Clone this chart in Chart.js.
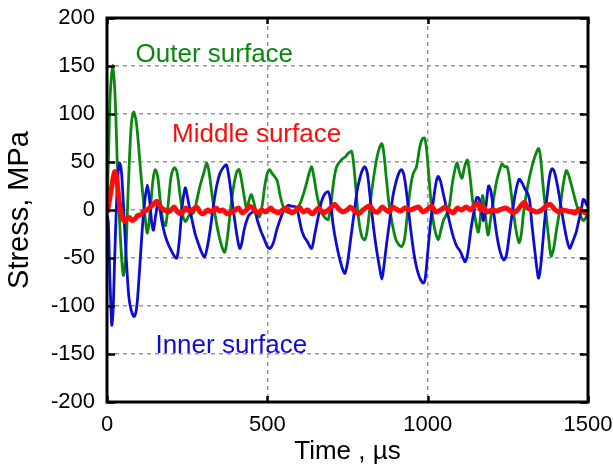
<!DOCTYPE html>
<html>
<head>
<meta charset="utf-8">
<script src="https://cdn.jsdelivr.net/npm/chart.js@4/dist/chart.umd.min.js"></script>
<style>
  html, body { margin: 0; padding: 0; background: #fff; }
  #wrap { width: 613px; height: 467px; }
</style>
</head>
<body>
<div id="wrap"><canvas id="stressChart" width="613" height="467"></canvas></div>
<script>
// ---- data (time in µs, stress in MPa) ----
const outerTime = [0,5,10,18,25,33,42,51,58,66,75,83,92,105,118,126,135,143,150,158,166,175,183,192,200,210,218,228,238,245,257,270,280,290,303,311,318,330,345,358,367,375,385,395,405,412,420,430,436,443,450,458,466,476,484,492,500,507,515,530,540,550,560,570,585,595,606,620,630,638,645,655,668,680,690,698,707,716,730,745,752,763,770,778,785,795,804,812,822,832,842,850,857,863,872,880,890,900,910,919,928,938,947,955,965,975,983,990,996,1005,1013,1022,1033,1042,1050,1060,1068,1078,1091,1099,1107,1115,1124,1132,1140,1150,1158,1165,1171,1178,1188,1196,1205,1215,1225,1232,1240,1248,1256,1265,1275,1285,1292,1300,1312,1325,1337,1346,1352,1360,1368,1376,1385,1393,1402,1412,1422,1432,1438,1445,1453,1462,1472,1485,1493,1500];
const outerStress = [0,60,120,151,120,40,-30,-68,-50,20,85,102,90,40,-5,-24,0,30,42,35,10,-12,-16,10,35,44,40,15,-8,-12,-5,-3,10,25,40,49,40,10,-20,-38,-44,-30,0,25,40,42,30,10,0,10,16,8,-3,-7,5,25,38,42,38,31,15,3,-2,-3,-3,2,10,25,38,45,35,15,-2,-8,-10,5,30,45,52,56,59,61,45,15,-10,-28,-31,-20,10,35,55,65,69,60,30,5,-15,-30,-36,-38,-30,0,25,38,45,65,74,75,65,30,0,-20,-31,-20,-10,-4,5,30,49,40,33,45,52,35,10,-12,-23,-5,15,0,-26,-10,10,30,42,48,45,45,30,5,-20,-34,-25,0,25,45,58,64,55,25,0,-25,-48,-40,-20,0,25,41,38,30,20,8,-2,-11,-8,-3];

const innerTime = [0,4,8,12,15,19,24,30,35,39,45,52,60,68,76,85,93,102,110,118,126,133,140,145,152,161,170,180,190,200,210,218,226,235,244,250,257,265,275,285,295,304,312,322,332,342,352,362,372,380,390,400,408,414,420,428,440,450,461,470,480,490,500,508,518,530,542,552,565,575,590,600,607,615,625,638,648,660,670,680,690,697,705,715,725,735,742,750,760,770,780,790,797,804,812,820,830,840,850,857,863,872,882,892,902,912,919,927,937,947,957,967,977,987,993,1000,1010,1020,1027,1033,1040,1050,1060,1070,1080,1091,1100,1108,1117,1125,1135,1145,1153,1160,1167,1174,1182,1190,1197,1205,1215,1225,1237,1245,1255,1265,1275,1285,1295,1303,1311,1318,1325,1335,1341,1346,1352,1360,1368,1376,1382,1388,1395,1405,1415,1425,1435,1443,1450,1458,1464,1472,1479,1485,1490,1495,1500];
const innerStress = [-5,-12,-60,-100,-120,-105,-50,10,40,49,40,0,-50,-90,-105,-111,-100,-60,-20,10,26,10,-15,-21,-5,9,-10,-25,-35,-42,-48,-50,-30,5,23,15,3,-10,-25,-35,-44,-49,-40,-20,5,25,38,44,47,35,10,-15,-32,-40,-35,-20,-7,-3,-2,-12,-22,-30,-38,-40,-35,-20,-8,0,5,4,3,-10,-21,-28,-33,-40,-25,-5,10,17,19,10,-15,-35,-50,-62,-66,-55,-30,-5,20,35,42,45,38,15,-15,-40,-60,-72,-60,-35,-10,15,30,40,42,35,10,-20,-45,-62,-72,-76,-70,-45,-10,15,30,35,30,15,0,-15,-28,-38,-42,-48,-54,-45,-20,0,13,12,0,-11,5,25,20,0,-25,-42,-52,-48,-25,0,20,32,28,22,18,10,-15,-45,-62,-71,-60,-30,0,25,38,43,40,25,5,-15,-32,-40,-35,-28,-22,-10,0,11,10,6,4];

const middleTime = [0,5,10,15,20,25,30,36,42,48,55,62,70,78,88,95,105,115,125,135,145,155,162,170,180,190,200,210,220,232,245,255,265,280,290,300,315,325,340,350,362,375,390,400,410,422,435,445,458,470,482,495,510,520,535,548,560,575,590,600,612,625,640,650,660,675,690,700,710,720,735,748,760,772,785,798,810,820,832,845,858,870,880,890,902,915,930,945,960,972,985,1000,1012,1025,1040,1055,1065,1080,1092,1105,1120,1133,1145,1158,1165,1175,1185,1200,1215,1230,1245,1258,1268,1280,1292,1302,1312,1325,1340,1355,1370,1382,1395,1408,1420,1435,1448,1460,1472,1485,1500];
const middleStress = [-3,5,15,25,35,40,33,15,0,-8,-12,-9,-8,-11,-9,-6,-5,-1,0,3,6,9,6,2,0,-2,0,3,-2,-4,2,-1,0,3,-2,-4,0,-2,2,-1,0,-4,-2,0,2,-3,0,4,1,-3,0,-2,2,-1,-3,0,2,-3,0,3,-2,0,-4,-1,2,-3,0,3,6,2,-2,0,3,-1,-4,0,3,4,-1,-2,3,0,-2,3,1,-1,2,0,2,3,-2,1,4,-2,0,3,0,-3,2,0,3,0,4,7,0,3,-2,0,-1,1,2,-1,-3,0,5,8,2,0,-2,0,4,6,1,-2,0,-1,-2,-3,1,-2,-4];

const xTicks = [0, 500, 1000, 1500];
const yTicks = [-200, -150, -100, -50, 0, 50, 100, 150, 200];

const GREEN = "#0a870f";
const BLUE  = "#0c0cd2";
const RED   = "#ff0b0b";
const FONT  = "'Liberation Sans', Arial, sans-serif";

const toPoints = (ts, vs) => ts.map((t, i) => ({ x: t, y: vs[i] }));

// labels written inside the plot (data coords of the text's left baseline)
const curveLabels = [
  { text: "Outer surface",  t: 89,  v: 154,  color: GREEN },
  { text: "Middle surface", t: 203, v: 71,   color: RED },
  { text: "Inner surface",  t: 151, v: -149, color: BLUE }
];

// frame + inward tick marks + the curve labels
const framePlugin = {
  id: "frame",
  afterDatasetsDraw(chart) {
    const { ctx, chartArea: a, scales: { x, y } } = chart;
    ctx.save();
    ctx.strokeStyle = "#000";
    ctx.lineWidth = 2.5;
    ctx.beginPath();
    yTicks.forEach(v => {
      const py = Math.round(y.getPixelForValue(v)) + 0.5;
      ctx.moveTo(a.left, py); ctx.lineTo(a.left + 8, py);
      ctx.moveTo(a.right, py); ctx.lineTo(a.right - 8, py);
    });
    xTicks.forEach(t => {
      const px = Math.round(x.getPixelForValue(t)) + 0.5;
      ctx.moveTo(px, a.bottom); ctx.lineTo(px, a.bottom - 6);
      ctx.moveTo(px, a.top); ctx.lineTo(px, a.top + 6);
    });
    ctx.stroke();
    ctx.lineWidth = 3;
    ctx.strokeRect(a.left, a.top, a.right - a.left, a.bottom - a.top);

    ctx.font = "26px " + FONT;
    ctx.textAlign = "left";
    ctx.textBaseline = "alphabetic";
    curveLabels.forEach(l => {
      ctx.fillStyle = l.color;
      ctx.fillText(l.text, x.getPixelForValue(l.t), y.getPixelForValue(l.v));
    });
    ctx.restore();
  }
};

new Chart(document.getElementById("stressChart"), {
  type: "line",
  data: {
    datasets: [
      { label: "Middle surface", data: toPoints(middleTime, middleStress), borderColor: RED,   borderWidth: 5,   order: 0 },
      { label: "Inner surface",  data: toPoints(innerTime, innerStress),   borderColor: BLUE,  borderWidth: 2.8, order: 1 },
      { label: "Outer surface",  data: toPoints(outerTime, outerStress),   borderColor: GREEN, borderWidth: 2.8, order: 2 }
    ]
  },
  options: {
    responsive: false,
    animation: false,
    events: [],
    layout: { padding: { top: 18, right: 25, left: 0, bottom: 0 } },
    elements: {
      point: { radius: 0 },
      line: { tension: 0.3, fill: false, borderJoinStyle: "round" }
    },
    plugins: { legend: { display: false }, tooltip: { enabled: false } },
    scales: {
      x: {
        type: "linear",
        min: 0, max: 1500,
        afterFit: s => { s.height = 65; s.paddingLeft = 0; s.paddingRight = 0; },
        afterBuildTicks: s => { s.ticks = xTicks.map(v => ({ value: v })); },
        grid: { color: "#9a9a9a", lineWidth: 1.5, drawTicks: false },
        border: { display: false, dash: [4, 4] },
        ticks: { color: "#000", padding: 10, maxRotation: 0, callback: v => String(v), font: { family: FONT, size: 22 } },
        title: { display: true, text: "Time , µs", color: "#000", padding: { top: 0, bottom: 0 }, font: { family: FONT, size: 26 } }
      },
      y: {
        min: -200, max: 200,
        afterFit: s => { s.width = 107; s.paddingTop = 0; s.paddingBottom = 0; },
        afterBuildTicks: s => { s.ticks = yTicks.map(v => ({ value: v })); },
        grid: { color: "#9a9a9a", lineWidth: 1.5, drawTicks: false },
        border: { display: false, dash: [4, 4] },
        ticks: { color: "#000", padding: 12, callback: v => String(v), font: { family: FONT, size: 22 } },
        title: { display: true, text: "Stress, MPa", color: "#000", padding: { top: 3, bottom: 0 }, font: { family: FONT, size: 29 } }
      }
    }
  },
  plugins: [framePlugin]
});
</script>
</body>
</html>
